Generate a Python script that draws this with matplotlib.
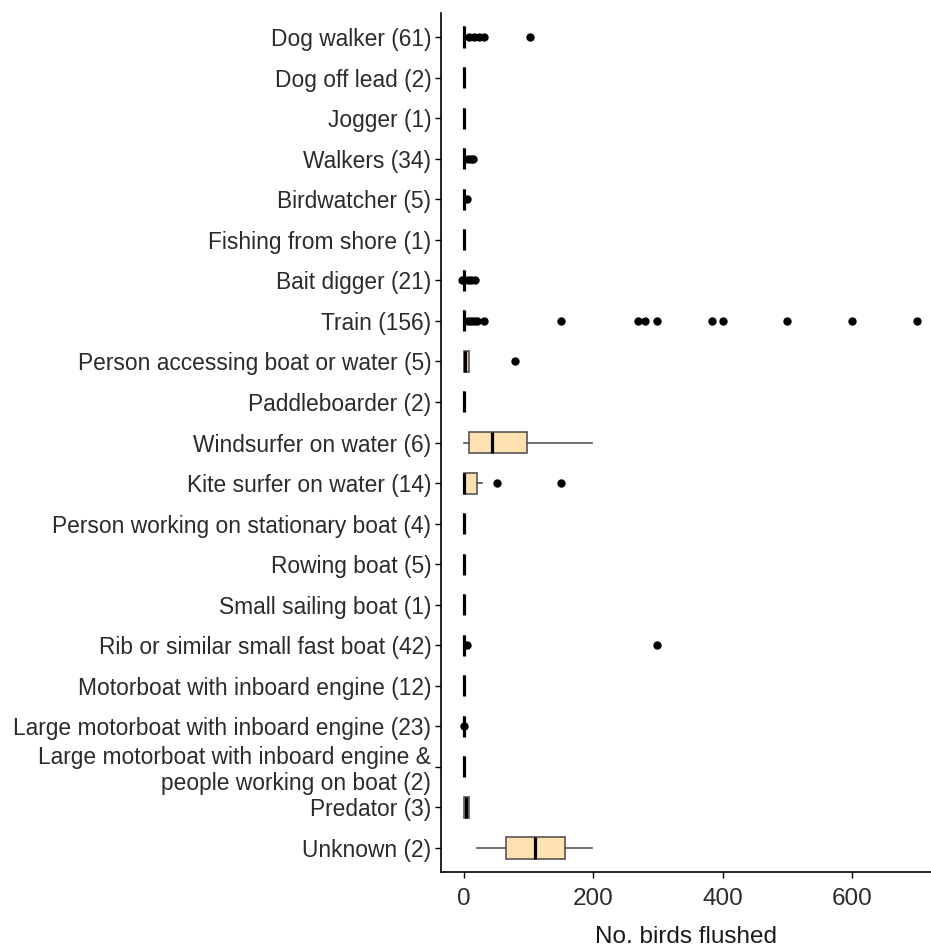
import matplotlib.pyplot as plt

plt.rcParams['font.family'] = ['Liberation Sans', 'DejaVu Sans']

# categories top to bottom
categories = [
    'Dog walker (61)', 'Dog off lead (2)', 'Jogger (1)', 'Walkers (34)',
    'Birdwatcher (5)', 'Fishing from shore (1)', 'Bait digger (21)', 'Train (156)',
    'Person accessing boat or water (5)', 'Paddleboarder (2)', 'Windsurfer on water (6)',
    'Kite surfer on water (14)', 'Person working on stationary boat (4)', 'Rowing boat (5)',
    'Small sailing boat (1)', 'Rib or similar small fast boat (42)',
    'Motorboat with inboard engine (12)', 'Large motorboat with inboard engine (23)',
    'Large motorboat with inboard engine &\npeople working on boat (2)',
    'Predator (3)', 'Unknown (2)',
]

# box statistics (number of birds flushed)
whislo = [0, 0, 0, 0, 0, 0, 0, 0, 0, 0, 1, 0, 0, 0, 0, 0, 0, 0, 0, 1, 21]
q1 = [0, 0, 0, 0, 0, 0, 0, 0, 1, 0, 9, 0, 0, 0, 0, 0, 0, 0, 0, 1, 65]
med = [0, 0, 0, 0, 0, 0, 0, 0, 2, 0, 44, 0, 0, 0, 0, 0, 0, 0, 0, 4, 110]
q3 = [1, 0, 0, 1, 0, 0, 1, 1, 8, 0, 98, 20, 0, 0, 0, 1, 0, 0, 0, 8, 156]
whishi = [3, 0, 0, 3, 0, 0, 2, 3, 8, 0, 198, 28, 0, 0, 0, 2, 0, 0, 0, 8, 199]
fliers = [
    [9, 16, 23, 31, 102], [], [], [7, 11, 15], [5], [], [-2, 6, 12, 17],
    [6, 11, 16, 21, 31, 151, 270, 280, 299, 384, 400, 500, 600, 700],
    [80], [], [], [51, 151], [], [], [], [5, 299], [], [1], [], [], [],
]

stats = []
for i in range(len(categories)):
    stats.append(dict(whislo=whislo[i], q1=q1[i], med=med[i], q3=q3[i],
                      whishi=whishi[i], fliers=fliers[i]))

fig = plt.figure(figsize=(9.31, 9.5), dpi=100)
ax = fig.add_axes([441 / 931, 77.7 / 950, 490 / 931, 859.6 / 950])

n = len(categories)
positions = list(range(n, 0, -1))
edge = '#555555'
ax.bxp(stats, positions=positions, orientation='horizontal', widths=0.52,
       patch_artist=True, showcaps=False,
       boxprops=dict(facecolor='#FFE0B0', edgecolor=edge, linewidth=1.2),
       whiskerprops=dict(color=edge, linewidth=1.2),
       medianprops=dict(color='black', linewidth=2.3),
       flierprops=dict(marker='o', markerfacecolor='black', markeredgecolor='black',
                       markersize=5, linestyle='none'))

ax.set_ylim(0.4, n + 0.6)
ax.set_xlim(-35, 722)
ax.set_yticks(positions)
ax.set_yticklabels(categories, fontsize=16.4, color='#2b2b2b')
for t in ax.get_yticklabels():
    t.set_linespacing(1.12)
ax.set_xticks([0, 200, 400, 600])
ax.tick_params(axis='x', labelsize=17.5, labelcolor='#2b2b2b', length=4, width=1, pad=7)
ax.tick_params(axis='y', length=4, width=1, pad=3)
ax.set_xlabel('No. birds flushed', fontsize=17.5, color='#1a1a1a', labelpad=12)

ax.spines['top'].set_visible(False)
ax.spines['right'].set_visible(False)
ax.spines['left'].set_linewidth(1.2)
ax.spines['bottom'].set_linewidth(1.2)

fig.savefig('out.png', dpi=100)
